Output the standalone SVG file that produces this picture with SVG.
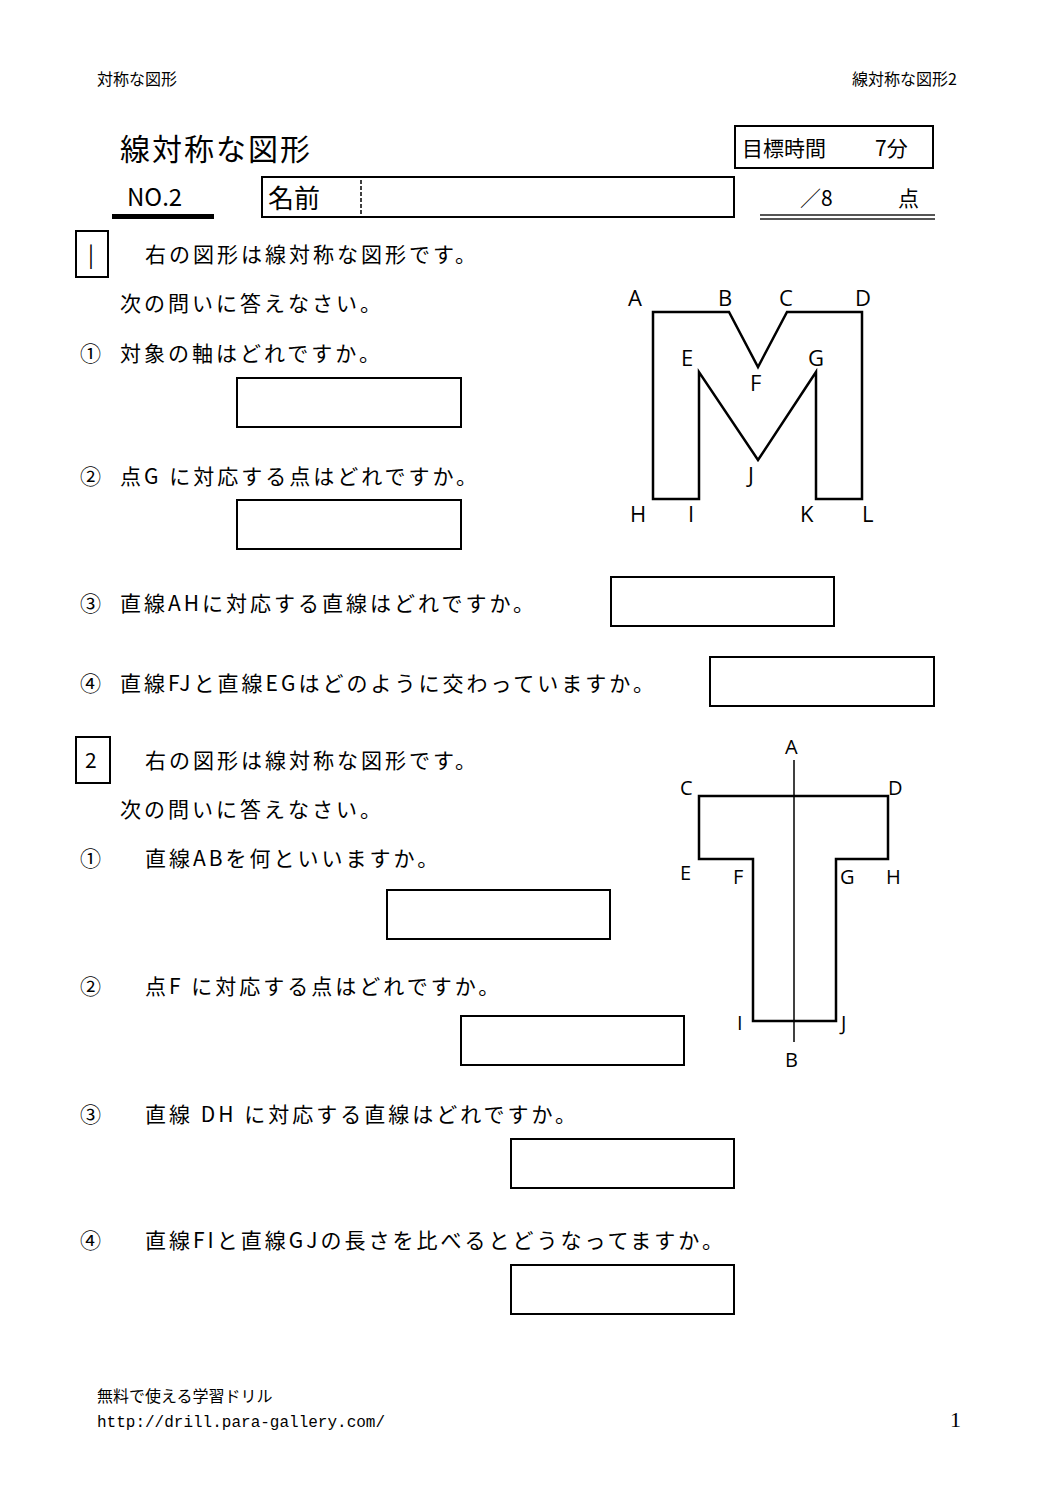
<svg xmlns="http://www.w3.org/2000/svg" width="1058" height="1497" viewBox="0 0 1058 1497">
<style>
text{font-family:"Noto Sans CJK JP","Liberation Sans",sans-serif;fill:#000}
.q{font-size:21px;letter-spacing:3px}
.s{font-size:16px}
.l{font-family:"Open Sans","Noto Sans",sans-serif;font-size:22px}
.b{fill:#fff;stroke:#000;stroke-width:2}
.f{fill:none;stroke:#000;stroke-width:2.5}
</style>
<rect width="1058" height="1497" fill="#fff"/>
<text x="97" y="85" class="s">対称な図形</text>
<text x="957" y="85" class="s" text-anchor="end">線対称な図形2</text>
<text x="120" y="160" font-size="30" letter-spacing="2">線対称な図形</text>
<rect x="735" y="126" width="198" height="42" class="b"/>
<text x="742" y="156" font-size="21">目標時間</text>
<text x="875" y="156" font-size="21">7分</text>
<text x="127" y="206" font-size="24">NO.2</text>
<rect x="112" y="214" width="102" height="5"/>
<rect x="262" y="177" width="472" height="40" class="b"/>
<text x="268" y="208" font-size="26">名前</text>
<line x1="361" y1="180" x2="361" y2="215" stroke="#000" stroke-width="1.5" stroke-dasharray="4,2"/>
<text x="800" y="206" font-size="21">／8</text>
<text x="898" y="206" font-size="21">点</text>
<rect x="760" y="214" width="175" height="2" fill="#555"/>
<rect x="760" y="218" width="175" height="2" fill="#555"/>
<g id="q1">
<rect x="76" y="231" width="32" height="46" class="b"/>
<text x="88" y="263" font-size="22">|</text>
<text x="145" y="262" class="q">右の図形は線対称な図形です。</text>
<text x="120" y="311" class="q">次の問いに答えなさい。</text>
<text x="80" y="361" class="q">①</text><text x="120" y="361" class="q">対象の軸はどれですか。</text>
<rect x="237" y="378" width="224" height="49" class="b"/>
<text x="80" y="484" class="q">②</text><text x="120" y="484" class="q">点G に対応する点はどれですか。</text>
<rect x="237" y="500" width="224" height="49" class="b"/>
<text x="80" y="611" class="q">③</text><text x="120" y="611" class="q">直線AHに対応する直線はどれですか。</text>
<rect x="611" y="577" width="223" height="49" class="b"/>
<text x="80" y="691" class="q">④</text><text x="120" y="691" class="q">直線FJと直線EGはどのように交わっていますか。</text>
<rect x="710" y="657" width="224" height="49" class="b"/>
</g>
<g id="M">
<polygon points="653,312 729,312 758,367 787,312 862,312 862,499 816,499 816,372 758,460 699,372 699,499 653,499" class="f"/>
<text x="628" y="306" class="l">A</text><text x="718" y="306" class="l">B</text>
<text x="779" y="306" class="l">C</text><text x="855" y="306" class="l">D</text>
<text x="681" y="366" class="l">E</text><text x="750" y="391" class="l">F</text>
<text x="808" y="366" class="l">G</text><text x="748" y="483" class="l">J</text>
<text x="630" y="522" class="l">H</text><text x="688" y="522" class="l">I</text>
<text x="800" y="522" class="l">K</text><text x="862" y="522" class="l">L</text>
</g>
<g id="q2">
<rect x="76" y="737" width="34" height="46" class="b"/>
<text x="85" y="768" font-size="21">2</text>
<text x="145" y="768" class="q">右の図形は線対称な図形です。</text>
<text x="120" y="817" class="q">次の問いに答えなさい。</text>
<text x="80" y="866" class="q">①</text><text x="145" y="866" class="q">直線ABを何といいますか。</text>
<rect x="387" y="890" width="223" height="49" class="b"/>
<text x="80" y="994" class="q">②</text><text x="145" y="994" class="q">点F に対応する点はどれですか。</text>
<rect x="461" y="1016" width="223" height="49" class="b"/>
<text x="80" y="1122" class="q">③</text><text x="145" y="1122" class="q">直線 DH に対応する直線はどれですか。</text>
<rect x="511" y="1139" width="223" height="49" class="b"/>
<text x="80" y="1248" class="q">④</text><text x="145" y="1248" class="q">直線FIと直線GJの長さを比べるとどうなってますか。</text>
<rect x="511" y="1265" width="223" height="49" class="b"/>
</g>
<g id="T">
<polygon points="699,796 888,796 888,859 836,859 836,1021 753,1021 753,859 699,859" class="f"/>
<line x1="794" y1="760" x2="794" y2="1042" stroke="#000" stroke-width="1.5"/>
<text x="785" y="754" class="l" style="font-size:20px">A</text><text x="785" y="1067" class="l" style="font-size:20px">B</text>
<text x="680" y="795" class="l" style="font-size:20px">C</text><text x="888" y="795" class="l" style="font-size:20px">D</text>
<text x="680" y="880" class="l" style="font-size:20px">E</text><text x="733" y="884" class="l" style="font-size:20px">F</text>
<text x="840" y="884" class="l" style="font-size:20px">G</text><text x="886" y="884" class="l" style="font-size:20px">H</text>
<text x="737" y="1030" class="l" style="font-size:20px">I</text><text x="841" y="1030" class="l" style="font-size:20px">J</text>
</g>
<text x="97" y="1402" class="s">無料で使える学習ドリル</text>
<text x="97" y="1427" style="font-family:'Liberation Mono',monospace;font-size:16px">http://drill.para-gallery.com/</text>
<text x="950" y="1427" style="font-family:'Liberation Serif',serif;font-size:22px">1</text>
</svg>
